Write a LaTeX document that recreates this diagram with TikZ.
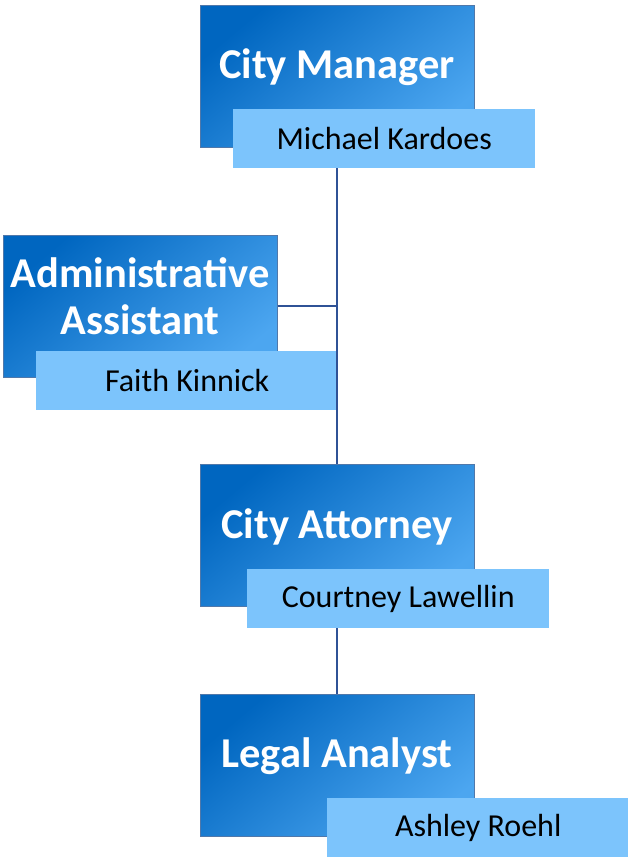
\documentclass[tikz,border=0pt]{standalone}
\usepackage{fontspec}
\setmainfont{Carlito}
\definecolor{bdark}{RGB}{0,102,192}
\definecolor{bmid}{RGB}{0,126,226}
\definecolor{blight}{RGB}{76,166,240}
\definecolor{namefill}{RGB}{124,196,252}
\definecolor{boxedge}{RGB}{80,120,170}
\definecolor{linec}{RGB}{47,82,150}
\tikzset{
  titlebox/.style={draw=boxedge, line width=0.8pt, top color=bdark, middle color=bmid, bottom color=blight, shading angle=40,
    minimum width=274pt, minimum height=142pt, inner sep=0pt, anchor=north west},
  titletext/.style={text=white, font=\fontsize{42.5}{47}\selectfont\bfseries, align=center},
  namebox/.style={fill=namefill, minimum width=302pt, minimum height=59pt, inner sep=0pt, anchor=north west,
    font=\fontsize{32}{36}\selectfont, text=black},
  conn/.style={draw=linec, line width=2pt}
}
\begin{document}
\begin{tikzpicture}[x=1pt,y=1pt]
\useasboundingbox (0,0) rectangle (627,-857);
% City Manager
\node[titlebox] (cm) at (200,-5) {};
\node[titletext] (cmt) at (337,-67) {City Manager};
\node[namebox] (cmn) at (233,-109) {Michael Kardoes};
% Administrative Assistant
\node[titlebox] (aa) at (3,-235) {};
\node[titletext] (aat) at (140,-296) {Administrative\\Assistant};
\node[namebox] (aan) at (36,-351) {Faith Kinnick};
% City Attorney
\node[titlebox] (ca) at (200,-464) {};
\node[titletext] (cat) at (337,-527) {City Attorney};
\node[namebox] (can) at (247,-569) {Courtney Lawellin};
% Legal Analyst
\node[titlebox] (la) at (200,-694) {};
\node[titletext] (lat) at (337,-756) {Legal Analyst};
\node[namebox] (lan) at (327,-798) {Ashley Roehl};
% connectors
\draw[conn] (cm.south |- cmn.south) -- (ca.north);
\draw[conn] (aa.east) -- (aa.east -| ca.north);
\draw[conn] (ca.south |- can.south) -- (la.north);
\end{tikzpicture}
\end{document}
